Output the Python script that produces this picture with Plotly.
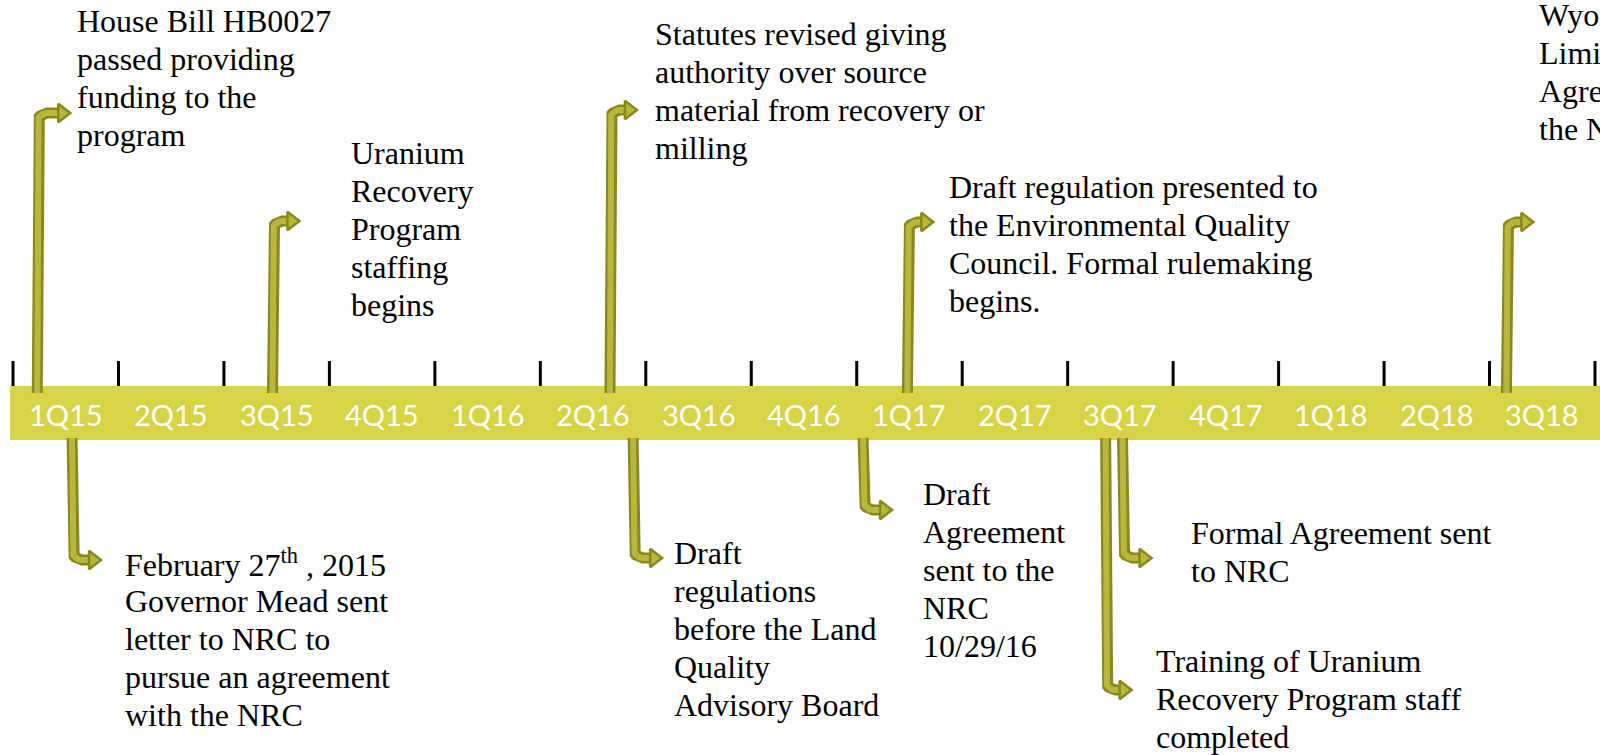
import math
import plotly.graph_objects as go

# ---------------- data ----------------
quarters = ["1Q15", "2Q15", "3Q15", "4Q15", "1Q16", "2Q16", "3Q16", "4Q16",
            "1Q17", "2Q17", "3Q17", "4Q17", "1Q18", "2Q18", "3Q18"]

# event position on the timeline, in quarters since start of 1Q15
event_pos = [0.23, 2.46, 5.66, 8.48, 14.16, 0.56, 5.88, 8.06, 10.36, 10.52]
event_side = ["up", "up", "up", "up", "up", "down", "down", "down", "down", "down"]
event_text = [
    ["House Bill HB0027", "passed providing", "funding to the", "program"],
    ["Uranium", "Recovery", "Program", "staffing", "begins"],
    ["Statutes revised giving", "authority over source", "material from recovery or", "milling"],
    ["Draft regulation presented to", "the Environmental Quality", "Council. Formal rulemaking", "begins."],
    ["Wyoming signs", "Limited", "Agreement with", "the NRC"],
    ["February 27<sup>th</sup> , 2015", "Governor Mead sent", "letter to NRC to", "pursue an agreement", "with the NRC"],
    ["Draft", "regulations", "before the Land", "Quality", "Advisory Board"],
    ["Draft", "Agreement", "sent to the", "NRC", "10/29/16"],
    ["Training of Uranium", "Recovery Program staff", "completed"],
    ["Formal Agreement sent", "to NRC"],
]

# ---------------- layout (pixels) ----------------
W, H = 1600, 755
X0_PX = 13.0                      # pixel of start of 1Q15
K = (1595.0 - X0_PX) / len(quarters)  # pixels per quarter
arrow_end_y = [113, 221, 110, 222, 222, 560, 558, 510, 690, 558]
arrow_tip_dx = [34, 28, 28, 27, 28, 30, 30, 30, 27, 30]
text_dx = [37.5, 76.5, 43, 40, 31, 51, 39, 58, 48, 66]
text_y0 = [20.5, 153, 34, 187, 15, 563, 553, 494, 661, 533]
LINE_H = 38
BAND_TOP, BAND_BOT = 386, 440

def px2q(px):
    return px / K

ARROW_DARK = "#88881c"
ARROW_FILL = "#b8b73b"
BAND = "#d7d546"

fig = go.Figure()

# arrows
for pos, side, yend, tipdx in zip(event_pos, event_side, arrow_end_y, arrow_tip_dx):
    r = 10.0
    xs, ys = [], []
    if side == "up":
        ystart = BAND_TOP + 7
        xs += [pos, pos]
        ys += [ystart, yend + r]
        for i in range(1, 13):
            th = math.radians(90 * i / 12)
            xs.append(pos + px2q(r * (1 - math.cos(th))))
            ys.append(yend + r * (1 - math.sin(th)))
    else:
        ystart = BAND_BOT - 2
        xs += [pos, pos]
        ys += [ystart, yend - r]
        for i in range(1, 13):
            th = math.radians(90 * i / 12)
            xs.append(pos + px2q(r * (1 - math.cos(th))))
            ys.append(yend - r * (1 - math.sin(th)))
    head_c = pos + px2q(tipdx - 9)
    xs.append(head_c)
    ys.append(yend)
    fig.add_trace(go.Scatter(x=xs, y=ys, mode="lines",
                             line=dict(color=ARROW_DARK, width=11),
                             hoverinfo="skip", showlegend=False))
    fig.add_trace(go.Scatter(x=xs, y=ys, mode="lines",
                             line=dict(color=ARROW_FILL, width=6),
                             hoverinfo="skip", showlegend=False))
    fig.add_trace(go.Scatter(x=[head_c], y=[yend], mode="markers",
                             marker=dict(symbol="triangle-right", size=16,
                                         color=ARROW_FILL,
                                         line=dict(color=ARROW_DARK, width=2.5)),
                             hoverinfo="skip", showlegend=False))

shapes = []
# band
shapes.append(dict(type="rect", xref="paper", yref="y", x0=10 / W, x1=1.0,
                   y0=BAND_TOP, y1=BAND_BOT, fillcolor=BAND, line=dict(width=0),
                   layer="below"))
# quarter boundary ticks
for i in range(len(quarters) + 1):
    shapes.append(dict(type="line", xref="x", yref="y", x0=i, x1=i,
                       y0=361, y1=BAND_TOP, line=dict(color="black", width=3),
                       layer="below"))

annotations = []
for i, q in enumerate(quarters):
    annotations.append(dict(x=i + 0.5, y=414, xref="x", yref="y", text=q,
                            showarrow=False, xanchor="center", yanchor="middle",
                            font=dict(family="Lato, Carlito, sans-serif", size=29,
                                      color="white")))

for pos, lines, dx, y0 in zip(event_pos, event_text, text_dx, text_y0):
    for j, ln in enumerate(lines):
        annotations.append(dict(x=pos + px2q(dx), y=y0 + j * LINE_H, xref="x", yref="y",
                                text=ln, showarrow=False, xanchor="left",
                                yanchor="middle", align="left",
                                font=dict(family="Liberation Serif, Times New Roman, serif",
                                          size=32, color="black")))

fig.update_layout(
    width=W, height=H,
    margin=dict(l=0, r=0, t=0, b=0),
    paper_bgcolor="white", plot_bgcolor="white",
    xaxis=dict(range=[px2q(-X0_PX), px2q(W - X0_PX)], visible=False, fixedrange=True),
    yaxis=dict(range=[H, 0], visible=False, fixedrange=True),
    shapes=shapes, annotations=annotations, showlegend=False,
)

fig.write_html("out.html", config={"displayModeBar": False},
               post_script="document.body.style.margin='0';document.body.style.overflow='hidden';")
